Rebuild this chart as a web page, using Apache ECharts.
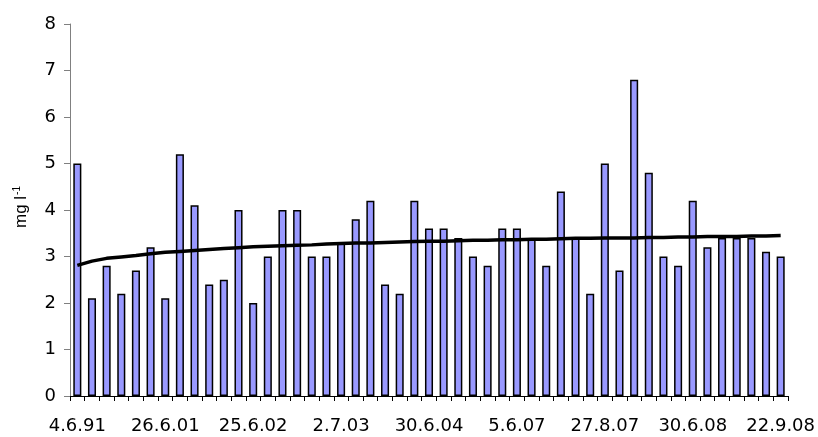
<!DOCTYPE html>
<html>
<head>
<meta charset="utf-8">
<script src="https://cdn.jsdelivr.net/npm/echarts@6/dist/echarts.min.js"></script>
<style>
  html, body { margin: 0; padding: 0; background: #fff; }
  #chart { width: 818px; height: 437px; }
</style>
</head>
<body>
<div id="chart"></div>
<script>
// sampling dates: only every 6th one is printed on the axis
const tickLabels = ['4.6.91', '26.6.01', '25.6.02', '2.7.03', '30.6.04', '5.6.07', '27.8.07', '30.6.08', '22.9.08']
const labelStep = 6

// measured concentration (mg l-1), one per sample
const values = [
  5.0, 2.1, 2.8, 2.2, 2.7, 3.2, 2.1, 5.2, 4.1, 2.4,
  2.5, 4.0, 2.0, 3.0, 4.0, 4.0, 3.0, 3.0, 3.3, 3.8,
  4.2, 2.4, 2.2, 4.2, 3.6, 3.6, 3.4, 3.0, 2.8, 3.6,
  3.6, 3.4, 2.8, 4.4, 3.4, 2.2, 5.0, 2.7, 6.8, 4.8,
  3.0, 2.8, 4.2, 3.2, 3.4, 3.4, 3.4, 3.1, 3.0
]

// trend line
const trend = [
  2.81, 2.90, 2.96, 2.99, 3.02, 3.06, 3.09, 3.11, 3.13, 3.15,
  3.17, 3.19, 3.21, 3.22, 3.23, 3.24, 3.25, 3.27, 3.28, 3.29,
  3.29, 3.30, 3.31, 3.32, 3.33, 3.33, 3.34, 3.35, 3.35, 3.36,
  3.36, 3.37, 3.37, 3.38, 3.39, 3.39, 3.40, 3.40, 3.40, 3.41,
  3.41, 3.42, 3.42, 3.43, 3.43, 3.43, 3.44, 3.44, 3.45
]

// category names: the printed dates where known, blanks between
const categories = values.map((v, i) => (i % labelStep === 0 ? tickLabels[i / labelStep] : ''))

const chart = echarts.init(document.getElementById('chart'))

chart.setOption({
  animation: false,
  backgroundColor: '#fff',
  textStyle: { fontFamily: 'DejaVu Sans' },
  grid: { left: 70, right: 28, top: 24, bottom: 41, containLabel: false },
  // axis title drawn by hand so the superscript can be sized
  graphic: [
    {
      type: 'text',
      x: 21,
      y: 207,
      rotation: Math.PI / 2,
      style: {
        text: '{b|mg l}{sup|-1}',
        align: 'center',
        verticalAlign: 'middle',
        fill: '#000',
        rich: {
          b: { fontSize: 17, fontFamily: 'Liberation Sans', fill: '#000' },
          sup: { fontSize: 10, fontFamily: 'Liberation Sans', fill: '#000', verticalAlign: 'top', padding: [0, 0, 7, 1] }
        }
      }
    }
  ],
  xAxis: {
    type: 'category',
    data: categories,
    boundaryGap: true,
    axisLine: { lineStyle: { color: '#000', width: 1 } },
    axisTick: { show: true, length: 5, interval: 0, lineStyle: { color: '#000' } },
    axisLabel: {
      interval: labelStep - 1,
      color: '#000',
      fontSize: 18,
      margin: 21,
      fontFamily: 'DejaVu Sans'
    },
    splitLine: { show: false }
  },
  yAxis: {
    type: 'value',
    min: 0,
    max: 8,
    interval: 1,
    axisLine: { show: true, lineStyle: { color: '#808080', width: 1 } },
    axisTick: { show: true, length: 6, lineStyle: { color: '#808080' } },
    axisLabel: { color: '#000', fontSize: 18, margin: 14, fontFamily: 'DejaVu Sans' },
    splitLine: { show: false }
  },
  series: [
    {
      type: 'bar',
      data: values,
      barWidth: '55%',
      itemStyle: { color: '#9999ff', borderColor: '#000', borderWidth: 1.5 }
    },
    {
      type: 'line',
      data: trend,
      showSymbol: false,
      symbol: 'none',
      lineStyle: { color: '#000', width: 3.5 },
      z: 3
    }
  ]
})
</script>
</body>
</html>
